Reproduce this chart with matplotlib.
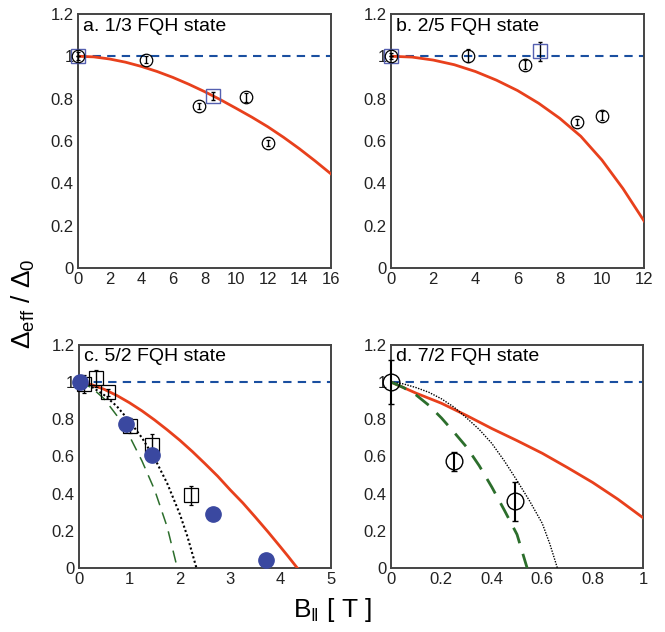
import matplotlib
matplotlib.use("Agg")
from matplotlib import pyplot as plt

plt.rcParams["font.family"] = ["Liberation Sans", "DejaVu Sans"]
plt.rcParams["mathtext.fontset"] = "custom"
plt.rcParams["mathtext.rm"] = "Liberation Sans"
plt.rcParams["mathtext.it"] = "Liberation Sans"

RED = "#e8401c"
BLUE = "#1a4fa0"
DOT = "#3a48a0"
GREEN = "#2c6e2c"

# ---- panel a: 1/3 state ----
a_red_x = list(range(0, 17))
a_red_y = [1.0, 0.997, 0.987, 0.972, 0.952, 0.928, 0.90, 0.868, 0.833,
           0.795, 0.754, 0.712, 0.667, 0.617, 0.563, 0.505, 0.444]
a_circ_x = [0, 4.29, 7.65, 10.63, 11.99]
a_circ_y = [1.0, 0.984, 0.765, 0.806, 0.59]
a_circ_e = [0.02, 0.015, 0.015, 0.02, 0.015]
a_sq_x = [0, 8.52]
a_sq_y = [1.0, 0.813]
a_sq_e = [0.0, 0.02]

# ---- panel b: 2/5 state ----
b_red_x = list(range(0, 13))
b_red_y = [1.0, 0.996, 0.982, 0.96, 0.928, 0.887, 0.838, 0.778, 0.707,
           0.622, 0.51, 0.375, 0.222]
b_circ_x = [0, 3.63, 6.37, 8.84, 10.02]
b_circ_y = [1.0, 1.003, 0.96, 0.69, 0.72]
b_circ_e = [0.015, 0.03, 0.02, 0.015, 0.02]
b_sq_x = [0, 7.08]
b_sq_y = [1.0, 1.024]
b_sq_e = [0.0, 0.045]

# ---- panel c: 5/2 state ----
c_red_x = [0, 0.25, 0.5, 0.75, 1, 1.25, 1.5, 1.75, 2, 2.25, 2.5, 2.75,
           3, 3.25, 3.5, 3.75, 4, 4.15, 4.33]
c_red_y = [1.0, 0.986, 0.961, 0.928, 0.889, 0.845, 0.796, 0.743, 0.687, 0.626,
           0.561, 0.494, 0.42, 0.35, 0.273, 0.194, 0.112, 0.062, 0.0]
c_blk_x = [0, 0.25, 0.5, 0.75, 1, 1.25, 1.5, 1.75, 2, 2.15, 2.33]
c_blk_y = [1.0, 0.975, 0.93, 0.87, 0.79, 0.70, 0.59, 0.455, 0.29, 0.17, 0.0]
c_grn_x = [0, 0.25, 0.5, 0.75, 1, 1.25, 1.5, 1.75, 1.95]
c_grn_y = [1.0, 0.97, 0.91, 0.82, 0.71, 0.575, 0.42, 0.22, 0.0]
c_dot_x = [0.02, 0.94, 1.45, 2.66, 3.71]
c_dot_y = [1.0, 0.775, 0.61, 0.288, 0.043]
c_sq_x = [0.1, 0.33, 0.58, 1.02, 1.44, 2.23]
c_sq_y = [0.99, 1.02, 0.945, 0.765, 0.66, 0.39]
c_sq_e = [0.05, 0.045, 0.02, 0.04, 0.06, 0.05]

# ---- panel d: 7/2 state ----
d_red_x = [0, 0.1, 0.2, 0.3, 0.4, 0.5, 0.6, 0.7, 0.8, 0.9, 1.0]
d_red_y = [1.0, 0.94, 0.886, 0.82, 0.75, 0.685, 0.617, 0.54, 0.46, 0.37, 0.27]
d_blk_x = [0, 0.05, 0.1, 0.15, 0.2, 0.25, 0.3, 0.35, 0.4, 0.45, 0.5, 0.55, 0.6, 0.63, 0.66]
d_blk_y = [1.0, 0.99, 0.97, 0.945, 0.91, 0.865, 0.807, 0.745, 0.67, 0.575, 0.47,
           0.36, 0.24, 0.13, 0.0]
d_grn_x = [0, 0.05, 0.1, 0.15, 0.2, 0.25, 0.3, 0.35, 0.4, 0.45, 0.5, 0.52, 0.54]
d_grn_y = [1.0, 0.97, 0.93, 0.875, 0.807, 0.73, 0.65, 0.55, 0.435, 0.31, 0.18, 0.09, 0.0]
d_circ_x = [0, 0.25, 0.49]
d_circ_y = [1.0, 0.574, 0.36]
d_circ_e = [0.12, 0.05, 0.105]

fig = plt.figure(figsize=(6.65, 6.32), dpi=100)
axa = fig.add_axes([0.1173, 0.576, 0.3805, 0.402])
axb = fig.add_axes([0.588, 0.576, 0.3805, 0.402])
axc = fig.add_axes([0.1188, 0.1013, 0.379, 0.353])
axd = fig.add_axes([0.588, 0.1013, 0.379, 0.353])

yt = [0, 0.2, 0.4, 0.6, 0.8, 1, 1.2]
ytl = ["0", "0.2", "0.4", "0.6", "0.8", "1", "1.2"]

def style(ax, xmax, xt, xtl, title):
    ax.set_xlim(0, xmax)
    ax.set_ylim(0, 1.2)
    ax.set_xticks(xt)
    ax.set_xticklabels(xtl)
    ax.set_yticks(yt)
    ax.set_yticklabels(ytl)
    ax.tick_params(length=0, labelsize=12, pad=3, colors="#222222")
    for s in ax.spines.values():
        s.set_linewidth(1.4)
        s.set_color("#444444")
    ax.plot([0, xmax], [1, 1], color=BLUE, linestyle=(0, (4, 3)), lw=1.5, zorder=2)
    ax.text(0.02, 0.985, title, transform=ax.transAxes, fontsize=14, va="top", ha="left")

style(axa, 16, range(0, 17, 2), [str(i) for i in range(0, 17, 2)], "a. 1/3 FQH state")
axa.plot(a_red_x, a_red_y, color=RED, lw=2, zorder=3)
axa.errorbar(a_sq_x, a_sq_y, yerr=a_sq_e, fmt="s", ms=10, mfc="none", mec="#5560b0",
             ecolor="k", elinewidth=1, capsize=1.5, zorder=4, clip_on=False)
axa.errorbar(a_circ_x, a_circ_y, yerr=a_circ_e, fmt="o", ms=9, mfc="none", mec="k",
             mew=0.9, ecolor="k", elinewidth=1, capsize=1.5, zorder=5, clip_on=False)

style(axb, 12, range(0, 13, 2), [str(i) for i in range(0, 13, 2)], "b. 2/5 FQH state")
axb.plot(b_red_x, b_red_y, color=RED, lw=2, zorder=3)
axb.errorbar(b_sq_x, b_sq_y, yerr=b_sq_e, fmt="s", ms=10, mfc="none", mec="#5560b0",
             ecolor="k", elinewidth=1, capsize=1.5, zorder=4, clip_on=False)
axb.errorbar(b_circ_x, b_circ_y, yerr=b_circ_e, fmt="o", ms=9, mfc="none", mec="k",
             mew=0.9, ecolor="k", elinewidth=1, capsize=1.5, zorder=5, clip_on=False)

style(axc, 5, range(0, 6), [str(i) for i in range(0, 6)], "c. 5/2 FQH state")
axc.plot(c_red_x, c_red_y, color=RED, lw=2, zorder=3)
axc.plot(c_blk_x, c_blk_y, color="k", linestyle=(0, (1, 1.2)), lw=1.5, zorder=3)
axc.plot(c_grn_x, c_grn_y, color=GREEN, linestyle=(0, (8, 5)), lw=1.1, zorder=3)
axc.errorbar(c_sq_x, c_sq_y, yerr=c_sq_e, fmt="s", ms=10, mfc="none", mec="k",
             mew=0.9, ecolor="k", elinewidth=1, capsize=1.5, zorder=4, clip_on=False)
axc.plot(c_dot_x, c_dot_y, "o", ms=11, color=DOT, zorder=5, clip_on=False)

style(axd, 1, [0, 0.2, 0.4, 0.6, 0.8, 1], ["0", "0.2", "0.4", "0.6", "0.8", "1"], "d. 7/2 FQH state")
axd.plot(d_red_x, d_red_y, color=RED, lw=2, zorder=3)
axd.plot(d_blk_x, d_blk_y, color="k", linestyle=(0, (1, 1)), lw=1.0, zorder=3)
axd.plot(d_grn_x, d_grn_y, color=GREEN, linestyle=(0, (6, 4)), lw=2, zorder=3)
axd.errorbar(d_circ_x, d_circ_y, yerr=d_circ_e, fmt="o", ms=12, mfc="none", mec="k",
             mew=1.0, ecolor="k", elinewidth=1.5, capsize=2, zorder=5, clip_on=False)

fig.text(0.035, 0.52, r"$\Delta_{\rm eff}\ /\ \Delta_0$", rotation=90, fontsize=19,
         ha="center", va="center")
fig.text(0.5, 0.035, r"B$_{\|}$ [ T ]", fontsize=19, ha="center", va="center")

fig.savefig("out.png", dpi=100)
